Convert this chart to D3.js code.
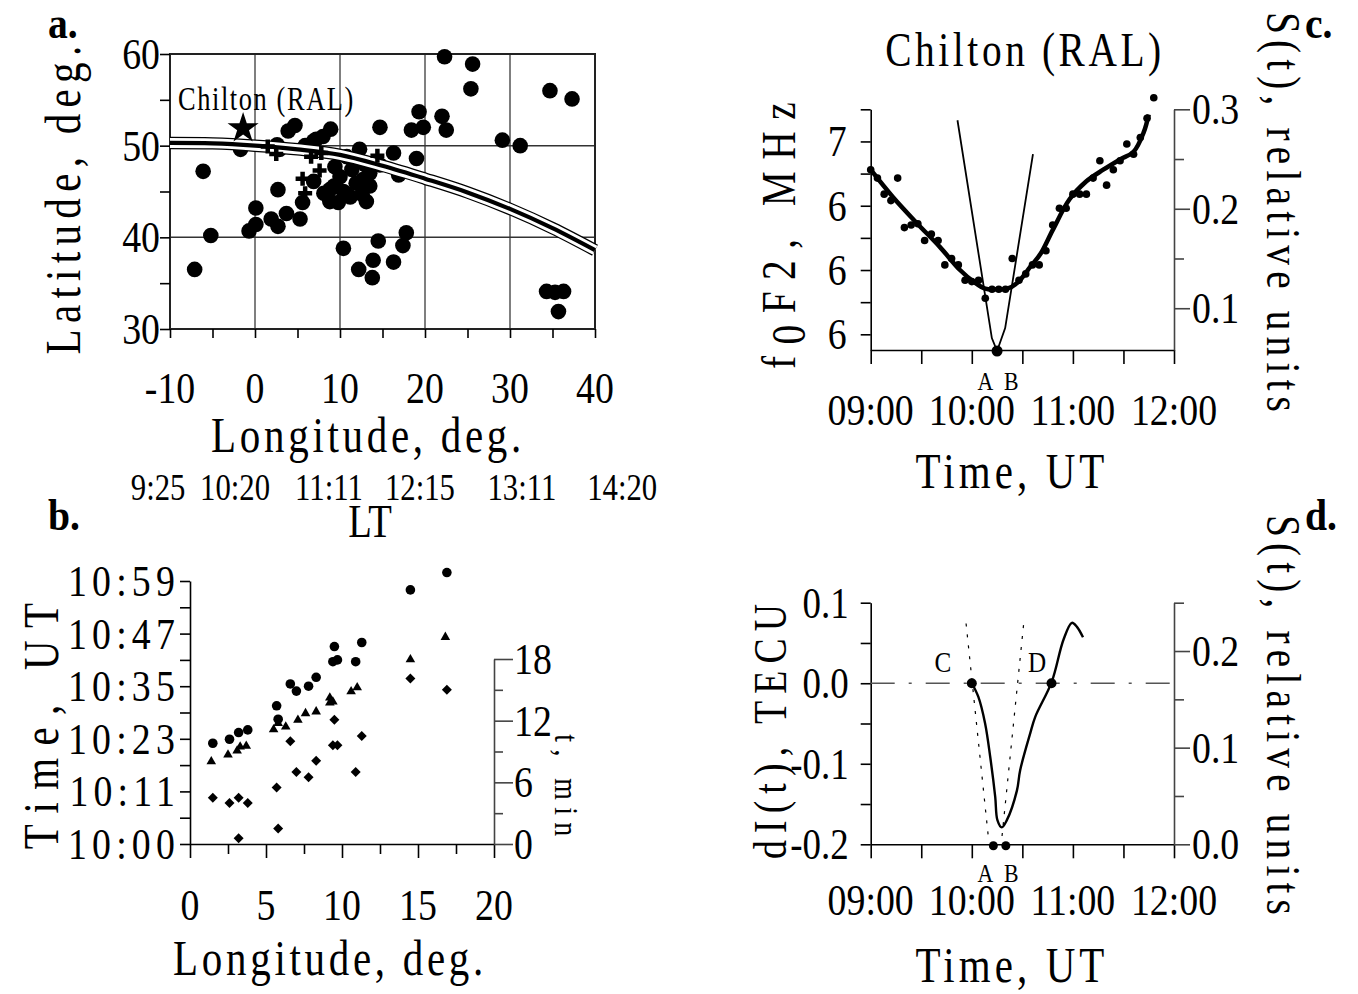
<!DOCTYPE html>
<html lang="en">
<head>
<meta charset="UTF-8">
<title>Chilton (RAL) figure</title>
<script src="https://d3js.org/d3.v7.min.js"></script>
<style>
  body { margin: 0; background: #fff; }
  svg text { font-family: "Liberation Serif", "Times New Roman", serif; fill: #000; }
</style>
</head>
<body>
<svg width="1358" height="994"></svg>
<script>
// ---- panel a: station positions ----
const aLon = [-7.1, -6.1, -5.2, -1.7, 0.1, 0.1, -0.7, 2.7, 1.9, 2.7, 3.7, 5.3, 5.6, 3.9, 4.7, 2.6, 2.9, 5.9, 6.9, 8.0,
  8.9, 6.9, 8.1, 8.8, 9.4, 10.8, 12.3, 14.7, 13.1, 10.4, 12.2, 13.8, 13.9, 14.5, 9.3, 10.8, 10.0, 11.9, 13.5, 22.3,
  25.6, 25.4, 34.7, 37.3, 19.3, 22.0, 18.4, 19.8, 22.5, 29.1, 31.2, 16.3, 19.0, 16.9, 14.7, 17.8, 17.4, 16.3, 34.3, 36.3,
  35.7, 35.3, 12.7, 13.5, 10.4, 7.2, 11.2, 9.8, 13.0, 11.4, 12.6, 8.8];
const aLat = [36.5, 47.2, 40.2, 49.6, 43.2, 41.4, 40.7, 45.2, 42.0, 41.2, 42.6, 42.0, 43.8, 51.6, 52.2, 50.1, 49.6, 50.0, 50.5, 51.0,
  51.8, 46.1, 44.8, 43.9, 47.7, 48.8, 49.6, 52.0, 43.9, 38.8, 36.5, 35.6, 37.5, 39.6, 45.6, 44.7, 46.6, 45.9, 45.6, 59.7,
  58.9, 56.2, 56.0, 55.1, 53.7, 53.2, 51.7, 52.0, 51.7, 50.6, 50.0, 49.2, 48.6, 46.8, 47.9, 40.5, 39.1, 37.3, 34.1, 34.1,
  31.9, 34.0, 46.3, 47.0, 45.0, 50.7, 44.4, 43.8, 47.9, 47.4, 44.7, 45.2];
const crossLon = [1.5, 2.5, 6.6, 7.8, 5.6, 7.6, 14.4, 5.9];
const crossLat = [49.9, 49.1, 48.8, 49.2, 46.4, 47.3, 48.9, 44.8];
const starLon = [-1.4];
const starLat = [51.9];
const pathLon = [-10, -5, 0, 5, 10, 15, 20, 25, 30, 35, 40];
const pathLat = [50.3, 50.25, 50.0, 49.6, 49.0, 47.8, 46.4, 44.9, 43.1, 41.0, 38.6];
const aLonTicks = [-10, -5, 0, 5, 10, 15, 20, 25, 30, 35, 40];
const aLonLabels = [-10, 0, 10, 20, 30, 40];
const aLatTicks = [30, 35, 40, 45, 50, 55, 60];
const aLatLabels = [30, 40, 50, 60];
const ltLabels = ["9:25", "10:20", "11:11", "12:15", "13:11", "14:20"];
const ltLon = [-11.4, -2.35, 8.7, 19.4, 31.4, 43.2];

// ---- panel b: arrival times vs longitude ----
const bCircLon = [1.5, 2.6, 3.2, 3.8, 5.7, 5.8, 6.6, 7.0, 7.8, 8.3, 9.5, 9.4, 9.7, 10.9, 11.3, 14.5, 16.9];
const bCircUT = [22.6, 23.5, 25.0, 25.6, 31.0, 28.0, 35.9, 34.3, 35.4, 37.4, 44.3, 40.9, 41.3, 40.9, 45.2, 57.0, 60.9];
const bTriLon = [1.4, 2.5, 3.1, 3.3, 3.7, 5.5, 5.8, 6.3, 7.1, 7.6, 8.3, 9.2, 9.2, 9.4, 10.6, 11.0, 14.5, 16.8];
const bTriUT = [18.5, 20.0, 20.9, 21.8, 22.0, 25.7, 27.1, 26.3, 27.8, 29.3, 29.7, 31.7, 32.8, 31.9, 34.2, 35.1, 41.4, 46.4];
const bDiaLon = [1.5, 2.6, 3.2, 3.8, 3.2, 5.7, 5.8, 6.6, 7.0, 7.8, 8.3, 9.5, 9.4, 9.7, 10.9, 11.3, 14.5, 16.9];
const bDiaT = [4.5, 4.0, 4.5, 4.0, 0.55, 5.5, 1.5, 10.0, 7.0, 6.5, 8.1, 12.1, 9.6, 9.6, 7.0, 10.5, 16.1, 15.0];
const bLonMajor = [0, 5, 10, 15, 20];
const bLonMinor = [2.5, 7.5, 12.5, 17.5];
const bUtTicks = [0, 5.9, 11.8, 17.7, 23.6, 29.5, 35.4, 41.3, 47.2, 53.1, 59];
const bUtLabelVals = [0, 11.8, 23.6, 35.4, 47.2, 59];
const bUtLabels = ["10:00", "10:11", "10:23", "10:35", "10:47", "10:59"];
const bTMajor = [0, 6, 12, 18];
const bTMinor = [3, 9, 15];

// ---- panel c: foF2 at Chilton (minutes after 09:00 UT) ----
const cTimes = [0, 4, 8, 12, 16, 20, 24, 28, 32, 36, 40, 44, 48, 52, 56, 60, 64, 68, 72, 76, 80, 84,
  88, 92, 96, 100, 104, 108, 112, 116, 120, 124, 128, 132, 136, 140, 144, 148, 152, 156, 160, 164, 168];
const cFoF2 = [6.78, 6.715, 6.59, 6.54, 6.715, 6.33, 6.35, 6.36, 6.23, 6.28, 6.23, 6.04, 6.09, 6.04, 5.92, 5.91, 5.92, 5.78,
  5.85, 5.85, 5.85, 6.09, 5.92, 5.97, 6.04, 6.04, 6.15, 6.35, 6.48, 6.48, 6.59, 6.59, 6.59, 6.715, 6.85, 6.66, 6.78,
  6.85, 6.98, 6.90, 7.03, 7.18, 7.34];
const cFitTimes = [0, 13, 27, 41, 53, 61, 68, 75, 81, 87, 95, 101, 108, 118, 128, 138, 148, 156, 162, 165];
const cFitF = [6.78, 6.57, 6.37, 6.18, 6.00, 5.91, 5.855, 5.85, 5.855, 5.90, 6.03, 6.13, 6.31, 6.55, 6.69, 6.78, 6.86, 6.92, 7.07, 7.21];
const cSTimes = [51.5, 71.9, 75.0, 79.8, 96.3];
const cS = [0.289, 0.070, 0.057, 0.080, 0.255];
const cFTicks = [5.5, 5.75, 6.0, 6.25, 6.5, 6.75, 7.0, 7.25];
const cFLabelVals = [5.5, 6.0, 6.5, 7.0];
const cFLabels = ["6", "6", "6", "7"];
const sMajorC = [0.1, 0.2, 0.3];
const sMinorC = [0.15, 0.25];
const timeTicks = [0, 30, 60, 90, 120, 150, 180];
const timeLabelVals = [0, 60, 120, 180];
const timeLabels = ["09:00", "10:00", "11:00", "12:00"];
const abTimes = [68, 83.5];
const abNames = ["A", "B"];

// ---- panel d: dI(t) ----
const dTimes = [60, 63.9, 67.9, 70.9, 73.9, 75.2, 77.8, 80.8, 86.8, 88.7, 94.7, 97.6, 107.5, 114.4, 119.4, 122.4, 126.0];
const dI = [0, -0.017, -0.050, -0.091, -0.141, -0.170, -0.179, -0.170, -0.133, -0.108, -0.062, -0.042, 0.002, 0.054, 0.075, 0.070, 0.057];
const cdTimes = [60, 107.3];
const cdNames = ["C", "D"];
const cdLabelTimes = [42.9, 98.8];
const dLeftT = [56.6, 69.9];
const dLeftS = [0.2285, 0.0062];
const dRightT = [90.7, 77.8];
const dRightS = [0.2268, 0.006];
const dABTimes = [72.8, 80.2];
const dITicks = [-0.2, -0.15, -0.1, -0.05, 0, 0.05, 0.1];
const dILabelVals = [-0.2, -0.1, 0, 0.1];
const dILabels = ["-0.2", "-0.1", "0.0", "0.1"];
const sMajorD = [0, 0.1, 0.2];
const sMinorD = [0.05, 0.15, 0.25];
const sLabelsD = ["0.0", "0.1", "0.2"];

const svg = d3.select("svg");
svg.append("rect").attr("width", 1358).attr("height", 994).attr("fill", "#fff");

function label(x, y, s, o = {}) {
  let tr = `translate(${x},${y})`;
  if (o.rot) tr += ` rotate(${o.rot})`;
  tr += ` scale(${o.sx ?? 0.84},1)`;
  return svg.append("text")
    .attr("transform", tr)
    .attr("text-anchor", o.anchor || "middle")
    .style("font-size", (o.size || 44) + "px")
    .style("letter-spacing", (o.ls || 0) + "px")
    .style("font-weight", o.bold ? "bold" : null)
    .text(s);
}

function drawAxis(gen, tx, ty, o = {}) {
  const g = svg.append("g").attr("transform", `translate(${tx},${ty})`).call(gen);
  g.selectAll("text").remove();
  g.selectAll("line, path").attr("stroke", o.color || "#000").attr("stroke-width", o.w || 1.6);
  if (o.noDomain) g.select(".domain").remove();
  return g;
}

// ================= panel a =================
const xA = d3.scaleLinear([-10, 40], [170, 595]);
const yA = d3.scaleLinear([30, 60], [329, 54]);

svg.append("g").selectAll("line").data([0, 10, 20, 30]).join("line")
  .attr("x1", d => xA(d)).attr("x2", d => xA(d)).attr("y1", yA(30)).attr("y2", yA(60))
  .attr("stroke", "#555").attr("stroke-width", 1.5);
svg.append("g").selectAll("line").data([40, 50]).join("line")
  .attr("x1", xA(-10)).attr("x2", xA(40)).attr("y1", d => yA(d)).attr("y2", d => yA(d))
  .attr("stroke", "#333").attr("stroke-width", 1.5);
svg.append("rect").attr("x", xA(-10)).attr("y", yA(60))
  .attr("width", xA(40) - xA(-10)).attr("height", yA(30) - yA(60))
  .attr("fill", "none").attr("stroke", "#222").attr("stroke-width", 2);
drawAxis(d3.axisBottom(xA).tickValues(aLonTicks).tickSize(9).tickSizeOuter(0), 0, yA(30), { noDomain: true });
drawAxis(d3.axisLeft(yA).tickValues(aLatTicks).tickSize(10).tickSizeOuter(0), xA(-10), 0, { noDomain: true });

svg.append("g").selectAll("circle").data(d3.zip(aLon, aLat)).join("circle")
  .attr("cx", d => xA(d[0])).attr("cy", d => yA(d[1])).attr("r", 7.8).attr("fill", "#000");

const pathLine = d3.line().x(d => xA(d[0])).y(d => yA(d[1])).curve(d3.curveCatmullRom);
const pathPts = d3.zip(pathLon, pathLat);
[[12.5, "#000"], [10, "#fff"], [4.2, "#000"]].forEach(([w, c]) => {
  svg.append("path").attr("d", pathLine(pathPts)).attr("fill", "none")
    .attr("stroke", c).attr("stroke-width", w);
});

svg.append("g").selectAll("path").data(d3.zip(crossLon, crossLat)).join("path")
  .attr("transform", d => `translate(${xA(d[0])},${yA(d[1])})`)
  .attr("d", "M-7,0H7M0,-7V7").attr("stroke", "#000").attr("stroke-width", 4.5);
svg.append("g").selectAll("path").data(d3.zip(starLon, starLat)).join("path")
  .attr("transform", d => `translate(${xA(d[0])},${yA(d[1])})`)
  .attr("d", d3.symbol(d3.symbolStar, 300)).attr("fill", "#000");

aLatLabels.forEach(v => label(xA(-10) - 10, yA(v) + 15, v, { anchor: "end", sx: 0.86 }));
aLonLabels.forEach(v => label(xA(v), 403, v, { sx: 0.86 }));
label(368, 452, "Longitude, deg.", { size: 50, sx: 0.82, ls: 4.5 });
label(80, 197, "Latitude, deg.", { size: 50, sx: 0.82, ls: 7.7, rot: -90 });
label(178, 110, "Chilton (RAL)", { size: 33, sx: 0.8, ls: 2, anchor: "start" });
label(48, 38, "a.", { bold: true, anchor: "start", sx: 0.9 });
ltLabels.forEach((s, i) => label(xA(ltLon[i]), 500, s, { size: 37, sx: 0.83 }));

// ================= panel b =================
const xB = d3.scaleLinear([0, 20], [190, 494]);
const yB = d3.scaleLinear([0, 59], [844, 581]);
const tB = d3.scaleLinear([0, 18], [844, 659]);

drawAxis(d3.axisLeft(yB).tickValues(bUtTicks).tickSize(10).tickSizeOuter(0), xB(0), 0);
drawAxis(d3.axisBottom(xB).tickValues(bLonMinor).tickSize(10).tickSizeOuter(0), 0, yB(0));
drawAxis(d3.axisBottom(xB).tickValues(bLonMajor).tickSize(14), 0, yB(0), { noDomain: true });
drawAxis(d3.axisRight(tB).tickValues(bTMinor).tickSize(9).tickSizeOuter(0), xB(20), 0, { color: "#444" });
drawAxis(d3.axisRight(tB).tickValues(bTMajor).tickSize(19), xB(20), 0, { noDomain: true, color: "#444" });

svg.append("g").selectAll("circle").data(d3.zip(bCircLon, bCircUT)).join("circle")
  .attr("cx", d => xB(d[0])).attr("cy", d => yB(d[1])).attr("r", 4.8).attr("fill", "#000");
svg.append("g").selectAll("path").data(d3.zip(bTriLon, bTriUT)).join("path")
  .attr("transform", d => `translate(${xB(d[0])},${yB(d[1])})`)
  .attr("d", d3.symbol(d3.symbolTriangle, 40)).attr("fill", "#000");
svg.append("g").selectAll("path").data(d3.zip(bDiaLon, bDiaT)).join("path")
  .attr("transform", d => `translate(${xB(d[0])},${tB(d[1])}) rotate(45)`)
  .attr("d", d3.symbol(d3.symbolSquare, 50)).attr("fill", "#000");

bUtLabelVals.forEach((v, i) => label(xB(0) - 10, yB(v) + 15, bUtLabels[i], { anchor: "end", sx: 0.86, ls: 6 }));
bLonMajor.forEach(v => label(xB(v), 920, v, { sx: 0.86 }));
bTMajor.forEach(v => label(xB(20) + 20, tB(v) + 15, v, { anchor: "start", sx: 0.86 }));
label(330, 975, "Longitude, deg.", { size: 50, sx: 0.82, ls: 4.5 });
label(58, 720, "Time, UT", { size: 50, sx: 0.82, ls: 15, rot: -90 });
label(555, 789, "t, min", { size: 34, sx: 0.82, ls: 9, rot: 90 });
label(370, 537, "LT", { size: 46, sx: 0.84 });
label(48, 530, "b.", { bold: true, anchor: "start", sx: 0.9 });

// ================= panel c =================
const xC = d3.scaleLinear([0, 180], [870.7, 1174]);
const yC = d3.scaleLinear([5.378, 7.25], [350, 109.3]);
const sC = d3.scaleLinear([0.058, 0.3], [350, 109.3]);

drawAxis(d3.axisLeft(yC).tickValues(cFTicks).tickSize(10).tickSizeOuter(0), xC(0), 0);
drawAxis(d3.axisBottom(xC).tickValues(timeTicks).tickSize(14).tickSizeOuter(0), 0, yC.range()[0]);
drawAxis(d3.axisRight(sC).tickValues(sMinorC).tickSize(10).tickSizeOuter(0), xC(180), 0, { color: "#444" });
drawAxis(d3.axisRight(sC).tickValues(sMajorC).tickSize(16), xC(180), 0, { noDomain: true, color: "#444" });

svg.append("g").selectAll("circle").data(d3.zip(cTimes, cFoF2)).join("circle")
  .attr("cx", d => xC(d[0])).attr("cy", d => yC(d[1])).attr("r", 3.8).attr("fill", "#000");
svg.append("path").attr("d", d3.line().x(d => xC(d[0])).y(d => yC(d[1])).curve(d3.curveCatmullRom)(d3.zip(cFitTimes, cFitF)))
  .attr("fill", "none").attr("stroke", "#000").attr("stroke-width", 4.5);
svg.append("path").attr("d", d3.line().x(d => xC(d[0])).y(d => sC(d[1]))(d3.zip(cSTimes, cS)))
  .attr("fill", "none").attr("stroke", "#000").attr("stroke-width", 1.8);
svg.append("circle").attr("cx", xC(cSTimes[2])).attr("cy", sC(cS[2])).attr("r", 5.5).attr("fill", "#000");

cFLabelVals.forEach((v, i) => label(xC(0) - 24, yC(v) + 15, cFLabels[i], { anchor: "end", sx: 0.86 }));
timeLabelVals.forEach((v, i) => label(xC(v), 425, timeLabels[i], { sx: 0.86 }));
sMajorC.forEach(v => label(xC(180) + 18, sC(v) + 15, v.toFixed(1), { anchor: "start", sx: 0.86 }));
abTimes.forEach((v, i) => label(xC(v), 390, abNames[i], { size: 26, sx: 0.84 }));
label(1025, 66, "Chilton (RAL)", { size: 48, sx: 0.82, ls: 4.4 });
label(1012, 488, "Time, UT", { size: 50, sx: 0.82, ls: 5 });
{
  const t = label(795, 230, "f", { size: 48, sx: 0.82, ls: 14, rot: -90 });
  t.append("tspan").attr("dy", 10).text("0");
  t.append("tspan").attr("dy", -10).text("F2, MHz");
}
label(1267, 215, "S(t), relative units", { size: 48, sx: 0.82, ls: 7.5, rot: 90 });
label(1305, 38, "c.", { bold: true, anchor: "start", sx: 0.9 });

// ================= panel d =================
const xD = d3.scaleLinear([0, 180], [870.7, 1174]);
const yD = d3.scaleLinear([-0.2, 0.1], [844.3, 602.7]);
const sD = d3.scaleLinear([0, 0.25], [844.3, 602.7]);

drawAxis(d3.axisLeft(yD).tickValues(dITicks).tickSize(10).tickSizeOuter(0), xD(0), 0);
drawAxis(d3.axisBottom(xD).tickValues(timeTicks).tickSize(14).tickSizeOuter(0), 0, yD(-0.2));
drawAxis(d3.axisRight(sD).tickValues(sMinorD).tickSize(10).tickSizeOuter(0), xD(180), 0, { color: "#444" });
drawAxis(d3.axisRight(sD).tickValues(sMajorD).tickSize(16), xD(180), 0, { noDomain: true, color: "#444" });

svg.append("line").attr("x1", xD(0)).attr("x2", xD(180)).attr("y1", yD(0)).attr("y2", yD(0))
  .attr("stroke", "#555").attr("stroke-width", 1.6).attr("stroke-dasharray", "24,14,3,14");
const sLine = d3.line().x(d => xD(d[0])).y(d => sD(d[1]));
[d3.zip(dLeftT, dLeftS), d3.zip(dRightT, dRightS)].forEach(p => {
  svg.append("path").attr("d", sLine(p)).attr("fill", "none")
    .attr("stroke", "#000").attr("stroke-width", 1.2).attr("stroke-dasharray", "3,8");
});
svg.append("path").attr("d", d3.line().x(d => xD(d[0])).y(d => yD(d[1])).curve(d3.curveCatmullRom)(d3.zip(dTimes, dI)))
  .attr("fill", "none").attr("stroke", "#000").attr("stroke-width", 2.4);
svg.append("g").selectAll("circle").data(cdTimes).join("circle")
  .attr("cx", d => xD(d)).attr("cy", yD(0)).attr("r", 5).attr("fill", "#000");
svg.append("g").selectAll("circle").data(dABTimes).join("circle")
  .attr("cx", d => xD(d)).attr("cy", sD(0) + 1.5).attr("r", 4.5).attr("fill", "#000");

dILabelVals.forEach((v, i) => label(xD(0) - 22, yD(v) + 15, dILabels[i], { anchor: "end", sx: 0.84 }));
timeLabelVals.forEach((v, i) => label(xD(v), 915, timeLabels[i], { sx: 0.86 }));
sMajorD.forEach((v, i) => label(xD(180) + 18, sD(v) + 15, sLabelsD[i], { anchor: "start", sx: 0.86 }));
abTimes.forEach((v, i) => label(xD(v), 882, abNames[i], { size: 26, sx: 0.84 }));
cdLabelTimes.forEach((v, i) => label(xD(v), 672, cdNames[i], { size: 30, sx: 0.84 }));
label(1012, 982, "Time, UT", { size: 50, sx: 0.82, ls: 5 });
label(786, 728, "dI(t), TECU", { size: 46, sx: 0.82, ls: 8.7, rot: -90 });
label(1267, 718, "S(t), relative units", { size: 48, sx: 0.82, ls: 7.5, rot: 90 });
label(1305, 530, "d.", { bold: true, anchor: "start", sx: 0.9 });
</script>
</body>
</html>
